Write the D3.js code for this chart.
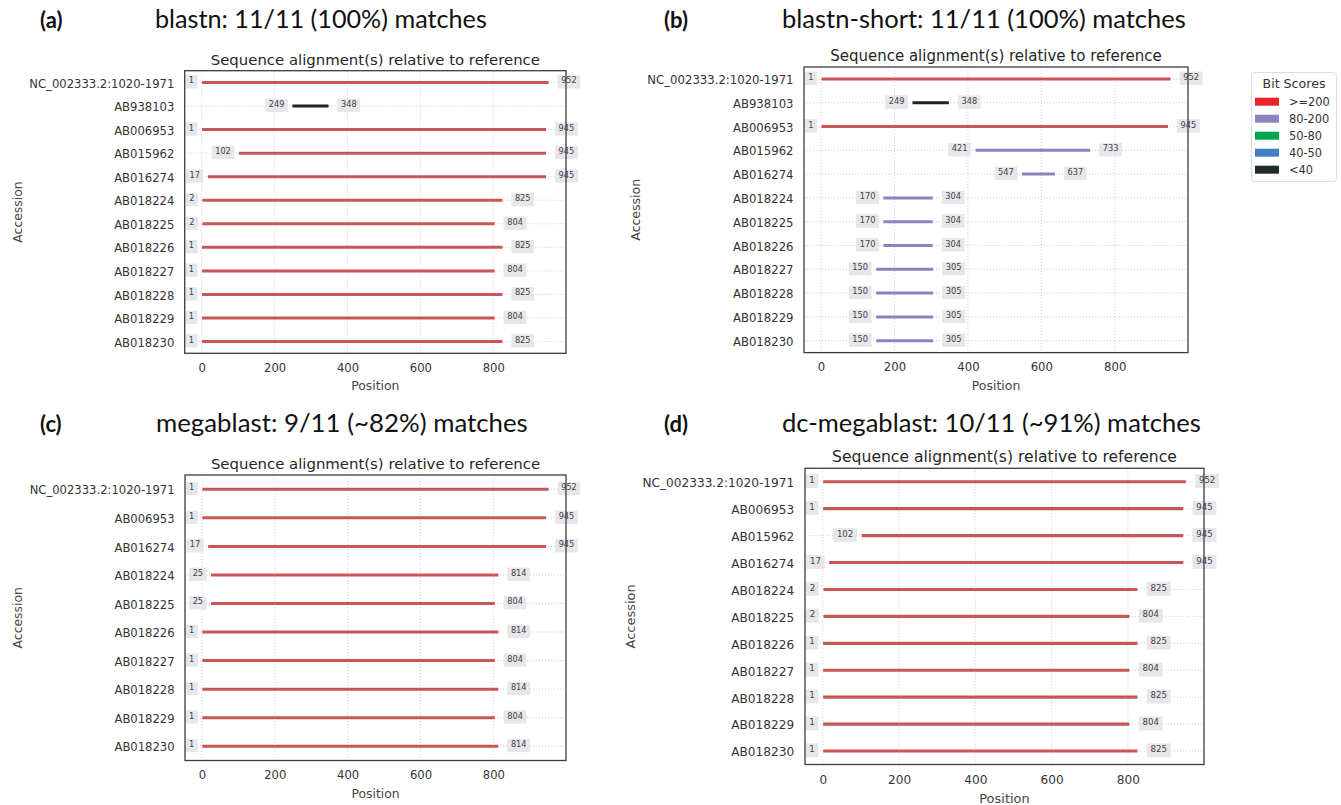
<!DOCTYPE html>
<html>
<head>
<meta charset="utf-8">
<script src="https://cdn.jsdelivr.net/npm/d3@7"></script>
<style>
  body { margin: 0; background: #fff; }
  svg { display: block; }
</style>
</head>
<body>
<svg id="fig" width="1341" height="805"></svg>
<script>
// ---- data ----
const accA = ["NC_002333.2:1020-1971", "AB938103", "AB006953", "AB015962", "AB016274", "AB018224",
              "AB018225", "AB018226", "AB018227", "AB018228", "AB018229", "AB018230"]
const startA = [1, 249, 1, 102, 17, 2, 2, 1, 1, 1, 1, 1]
const endA = [952, 348, 945, 945, 945, 825, 804, 825, 804, 825, 804, 825]
const binA = [">=200", "<40", ">=200", ">=200", ">=200", ">=200", ">=200", ">=200", ">=200", ">=200", ">=200", ">=200"]

const accB = accA
const startB = [1, 249, 1, 421, 547, 170, 170, 170, 150, 150, 150, 150]
const endB = [952, 348, 945, 733, 637, 304, 304, 304, 305, 305, 305, 305]
const binB = [">=200", "<40", ">=200", "80-200", "80-200", "80-200", "80-200", "80-200", "80-200", "80-200", "80-200", "80-200"]

const accC = ["NC_002333.2:1020-1971", "AB006953", "AB016274", "AB018224", "AB018225",
              "AB018226", "AB018227", "AB018228", "AB018229", "AB018230"]
const startC = [1, 1, 17, 25, 25, 1, 1, 1, 1, 1]
const endC = [952, 945, 945, 814, 804, 814, 804, 814, 804, 814]
const binC = [">=200", ">=200", ">=200", ">=200", ">=200", ">=200", ">=200", ">=200", ">=200", ">=200"]

const accD = ["NC_002333.2:1020-1971", "AB006953", "AB015962", "AB016274", "AB018224", "AB018225",
              "AB018226", "AB018227", "AB018228", "AB018229", "AB018230"]
const startD = [1, 1, 102, 17, 2, 2, 1, 1, 1, 1, 1]
const endD = [952, 945, 945, 945, 825, 804, 825, 804, 825, 804, 825]
const binD = [">=200", ">=200", ">=200", ">=200", ">=200", ">=200", ">=200", ">=200", ">=200", ">=200", ">=200"]

const xTicks = [0, 200, 400, 600, 800]
const scoreBins = [">=200", "80-200", "50-80", "40-50", "<40"]
const legendColors = ["#ec2227", "#8a84c0", "#00a650", "#3f80c6", "#232a2a"]
const lineColors = ["#c95656", "#8a84c2", "#00a650", "#3f80c6", "#222222"]

const panels = [
  {tag: "(a)", head: "blastn: 11/11 (100%) matches", acc: accA, start: startA, end: endA, bin: binA,
   frame: [184.7, 70.7, 566, 353.3], k: 1, tagX: 40, headX: 155, headW: 332, headY: 28},
  {tag: "(b)", head: "blastn-short: 11/11 (100%) matches", acc: accB, start: startB, end: endB, bin: binB,
   frame: [804, 67, 1188, 352.6], k: 1.008, tagX: 664, headX: 782, headW: 404, headY: 28},
  {tag: "(c)", head: "megablast: 9/11 (~82%) matches", acc: accC, start: startC, end: endC, bin: binC,
   frame: [185, 475, 566, 760.5], k: 1, tagX: 40, headX: 156, headW: 372, headY: 432},
  {tag: "(d)", head: "dc-megablast: 10/11 (~91%) matches", acc: accD, start: startD, end: endD, bin: binD,
   frame: [805, 468.3, 1204, 764.5], k: 1.047, tagX: 664, headX: 782, headW: 419, headY: 432}
]

const svg = d3.select("#fig")
const chartFont = "DejaVu Sans, sans-serif"

// every panel shares the same x range: data extent plus matplotlib's 5% margin
const lo = d3.min([startA, startB, startC, startD].flat())
const hi = d3.max([endA, endB, endC, endD].flat())
const xDomain = [lo - 0.05 * (hi - lo), hi + 0.05 * (hi - lo)]

function numLabel(g, xEdge, yRow, value, anchor, k) {
  const pad = 3.5 * k
  const tx = anchor === "end" ? xEdge - pad : xEdge + pad
  const base = yRow + 1 * k
  const t = g.append("text")
    .attr("x", tx).attr("y", base)
    .attr("text-anchor", anchor)
    .attr("font-family", chartFont)
    .attr("font-size", 8.2 * k)
    .attr("fill", "#444")
    .text(value)
  const w = t.node().getComputedTextLength()
  const bx = anchor === "end" ? tx - w - pad : xEdge
  g.insert("rect", () => t.node())
    .attr("x", bx).attr("y", base - 8.3 * k)
    .attr("width", w + 2 * pad).attr("height", 13.3 * k)
    .attr("fill", "#e6e6eb")
}

function drawPanel(p) {
  const [L, T, R, B] = p.frame
  const k = p.k
  const g = svg.append("g")

  const x = d3.scaleLinear().domain(xDomain).range([L, R])
  const y = d3.scalePoint().domain(p.acc).range([T, B]).padding(0.5)

  // heading above the panel
  g.append("text")
    .attr("x", p.tagX).attr("y", p.headY)
    .attr("font-family", "Lato, sans-serif").attr("font-weight", "bold")
    .attr("font-size", 22).attr("fill", "#111")
    .text(p.tag)
  const head = g.append("text")
    .attr("x", p.headX).attr("y", p.headY)
    .attr("font-family", "Lato, sans-serif")
    .attr("font-size", 26).attr("fill", "#111")
    .text(p.head)
  const hw = head.node().getComputedTextLength()
  head.attr("font-size", 26 * p.headW / hw)

  // dotted grid
  g.selectAll(".gx").data(xTicks).join("line")
    .attr("x1", d => x(d)).attr("x2", d => x(d))
    .attr("y1", T).attr("y2", B)
    .attr("stroke", "#c8c8c8").attr("stroke-width", 0.9).attr("stroke-dasharray", "1,2")
  g.selectAll(".gy").data(p.acc).join("line")
    .attr("x1", L).attr("x2", R)
    .attr("y1", d => y(d)).attr("y2", d => y(d))
    .attr("stroke", "#c8c8c8").attr("stroke-width", 0.9).attr("stroke-dasharray", "1,2")

  // axes
  const xAxis = g.append("g")
    .attr("transform", `translate(0,${B})`)
    .call(d3.axisBottom(x).tickValues(xTicks).tickSize(0).tickPadding(10.5 * k))
  const yAxis = g.append("g")
    .attr("transform", `translate(${L},0)`)
    .call(d3.axisLeft(y).tickSize(0).tickPadding(10.4 * k))
  for (const ax of [xAxis, yAxis]) {
    ax.select(".domain").remove()
    ax.selectAll("text")
      .attr("font-family", chartFont)
      .attr("font-size", 11.6 * k)
      .attr("fill", "#333")
  }
  yAxis.selectAll("text").attr("dy", "0.4em")

  // chart title and axis titles
  g.append("text")
    .attr("x", (L + R) / 2).attr("y", T - 6 * k)
    .attr("text-anchor", "middle")
    .attr("font-family", chartFont).attr("font-size", 14.9 * k).attr("fill", "#262626")
    .text("Sequence alignment(s) relative to reference")
  g.append("text")
    .attr("x", (L + R) / 2).attr("y", B + 37 * k)
    .attr("text-anchor", "middle")
    .attr("font-family", chartFont).attr("font-size", 12.4 * k).attr("fill", "#444")
    .text("Position")
  const minLabelX = d3.min(yAxis.selectAll("text").nodes(), n => n.getBBox().x) + L
  g.append("text")
    .attr("transform", `translate(${minLabelX - 12 * k + 4.5 * k},${(T + B) / 2}) rotate(-90)`)
    .attr("text-anchor", "middle")
    .attr("font-family", chartFont).attr("font-size", 12.4 * k).attr("fill", "#444")
    .text("Accession")

  // alignment segments
  const rows = p.acc.map((a, i) => ({acc: a, s: p.start[i], e: p.end[i], bin: p.bin[i]}))
  g.selectAll(".seg").data(rows).join("line")
    .attr("x1", d => x(d.s)).attr("x2", d => x(d.e))
    .attr("y1", d => y(d.acc)).attr("y2", d => y(d.acc))
    .attr("stroke", d => lineColors[scoreBins.indexOf(d.bin)])
    .attr("stroke-width", 3 * k)

  // start / end labels in grey boxes
  rows.forEach(d => {
    numLabel(g, x(d.s) - 4.5 * k, y(d.acc), d.s, "end", k)
    numLabel(g, x(d.e) + 9 * k, y(d.acc), d.e, "start", k)
  })

  // axes frame on top
  g.append("rect")
    .attr("x", L).attr("y", T).attr("width", R - L).attr("height", B - T)
    .attr("fill", "none").attr("stroke", "#3a3d40").attr("stroke-width", 1.3)
}

panels.forEach(drawPanel)

// legend of panel (b)
const lg = svg.append("g")
lg.append("rect")
  .attr("x", 1251.5).attr("y", 72.5).attr("width", 85).attr("height", 109)
  .attr("rx", 3).attr("fill", "#fff").attr("stroke", "#dcdcdc")
lg.append("text")
  .attr("x", 1294).attr("y", 88).attr("text-anchor", "middle")
  .attr("font-family", chartFont).attr("font-size", 12.6).attr("fill", "#333")
  .text("Bit Scores")
const item = lg.selectAll(".item").data(scoreBins).join("g")
  .attr("transform", (d, i) => `translate(0,${101.7 + i * 17})`)
item.append("rect")
  .attr("x", 1255).attr("y", -4).attr("width", 24).attr("height", 8)
  .attr("fill", (d, i) => legendColors[i])
item.append("text")
  .attr("x", 1289).attr("y", 4.1)
  .attr("font-family", chartFont).attr("font-size", 11.4).attr("fill", "#333")
  .text(d => d)
</script>
</body>
</html>
